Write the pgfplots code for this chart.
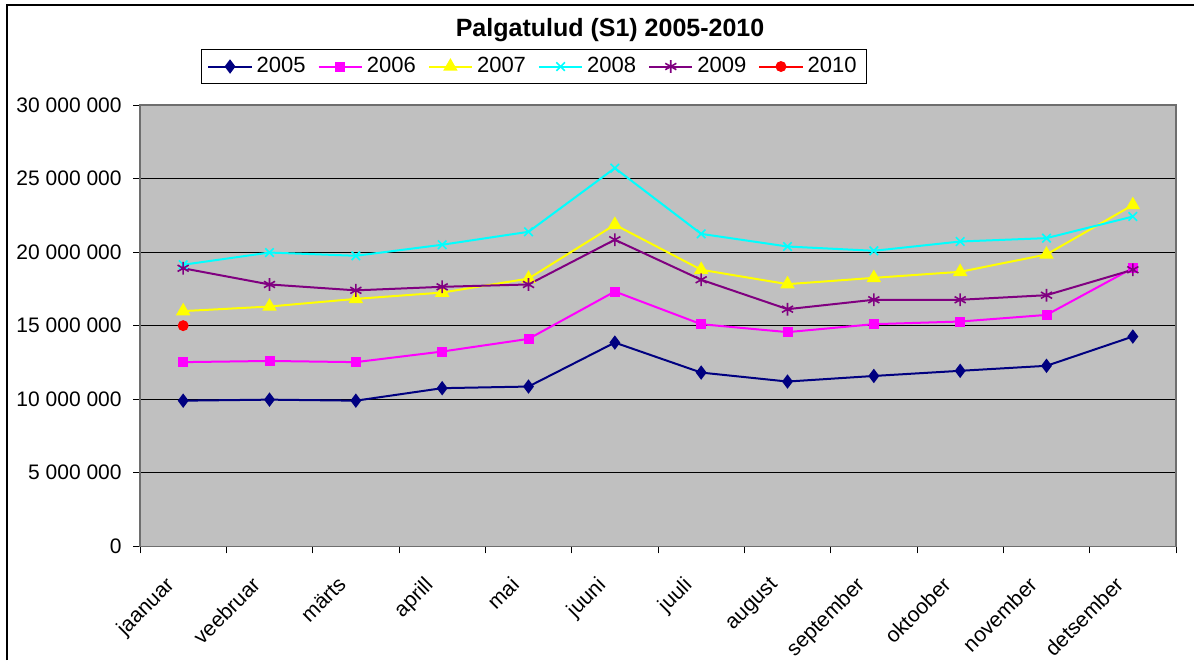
\documentclass[border=0pt]{standalone}
\usepackage{fontspec}
\setmainfont{Liberation Sans}
\usepackage{pgfplots}
\pgfplotsset{compat=1.18}
\definecolor{silverbg}{RGB}{192,192,192}
\definecolor{c2005}{RGB}{0,0,128}
\definecolor{c2006}{RGB}{255,0,255}
\definecolor{c2007}{RGB}{255,255,0}
\definecolor{c2008}{RGB}{0,255,255}
\definecolor{c2009}{RGB}{128,0,128}
\definecolor{c2010}{RGB}{255,0,0}
\definecolor{axisgray}{RGB}{110,110,110}
\begin{document}
\begin{tikzpicture}[x=1pt,y=1pt]
\useasboundingbox (0,0) rectangle (597,330);
\draw[line width=1pt,black] (3.5,0) -- (3.5,327.5) -- (597,327.5);
\begin{axis}[
  at={(70pt,56.85pt)}, anchor=south west,
  scale only axis, width=518pt, height=220.65pt,
  xmin=-0.5, xmax=11.5, ymin=0, ymax=30000000,
  scaled y ticks=false,
  xtick={0,...,11},
  xticklabels={jaanuar,veebruar,märts,aprill,mai,juuni,juuli,august,september,oktoober,november,detsember},
  major x tick style={draw=none},
  minor xtick={-0.5,0.5,...,11.5},
  ytick={0,5000000,10000000,15000000,20000000,25000000,30000000},
  yticklabels={0,{5 000 000},{10 000 000},{15 000 000},{20 000 000},{25 000 000},{30 000 000}},
  tick pos=left, tick align=outside,
  major tick length=3.5pt, minor tick length=3.5pt,
  tick style={black, line width=0.5pt},
  ymajorgrids, grid style={black, line width=0.6pt},
  axis background/.style={fill=silverbg},
  axis line style={draw=axisgray, line width=0.8pt},
  xticklabel style={xshift=-9.5pt, yshift=-9.5pt, rotate=45, anchor=north east, inner sep=1pt,
    font=\fontsize{10.6}{12.5}\selectfont},
  yticklabel style={inner sep=2pt, xshift=-3.5pt, font=\fontsize{10.5}{12.5}\selectfont},
  title={Palgatulud (S1) 2005-2010},
  title style={at={(0.4537,1.1428)}, anchor=center, yshift=0pt, font=\bfseries\fontsize{12.5}{15}\selectfont},
  legend columns=6,
  legend style={at={(0.3803,1.0872)}, anchor=center, draw=black, line width=0.5pt, fill=white,
    font=\fontsize{11}{13}\selectfont, inner ysep=2pt, inner xsep=3pt,
    /tikz/every even column/.append style={column sep=4pt}},
  legend image code/.code={\draw[mark repeat=2,mark phase=2] plot coordinates {(0cm,0cm) (0.38cm,0cm) (0.76cm,0cm)};},
  every axis plot/.append style={line width=1pt},
]
\addplot[color=c2005, mark=diamond*, mark size=2.8pt] coordinates {
(0,9900000) (1,9970000) (2,9900000) (3,10750000) (4,10860000) (5,13850000)
(6,11810000) (7,11200000) (8,11580000) (9,11930000) (10,12270000) (11,14260000)};
\addlegendentry{2005}
\addplot[color=c2006, mark=square*, mark size=2pt] coordinates {
(0,12520000) (1,12600000) (2,12520000) (3,13240000) (4,14100000) (5,17320000)
(6,15100000) (7,14560000) (8,15100000) (9,15280000) (10,15730000) (11,18910000)};
\addlegendentry{2006}
\addplot[color=c2007, mark=triangle*, mark size=3.2pt] coordinates {
(0,15990000) (1,16300000) (2,16820000) (3,17250000) (4,18200000) (5,21860000)
(6,18800000) (7,17820000) (8,18250000) (9,18660000) (10,19840000) (11,23200000)};
\addlegendentry{2007}
\addplot[color=c2008, mark=x, mark size=3pt, mark options={line width=0.8pt}] coordinates {
(0,19140000) (1,19970000) (2,19750000) (3,20500000) (4,21380000) (5,25710000)
(6,21240000) (7,20380000) (8,20090000) (9,20720000) (10,20950000) (11,22420000)};
\addlegendentry{2008}
\addplot[color=c2009, mark=asterisk, mark size=3.2pt, mark options={line width=0.8pt}] coordinates {
(0,18900000) (1,17800000) (2,17400000) (3,17640000) (4,17800000) (5,20840000)
(6,18120000) (7,16120000) (8,16760000) (9,16760000) (10,17070000) (11,18800000)};
\addlegendentry{2009}
\addplot[color=c2010, mark=*, mark size=2.2pt] coordinates {(0,15000000)};
\addlegendentry{2010}
\end{axis}
\end{tikzpicture}
\end{document}
